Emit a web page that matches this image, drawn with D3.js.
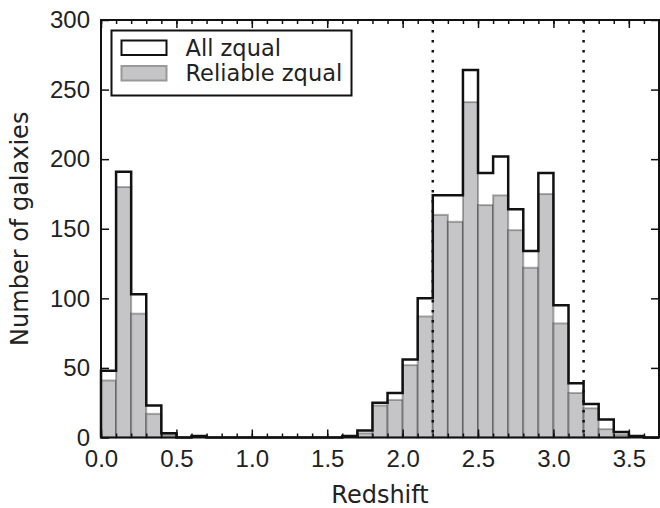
<!DOCTYPE html>
<html>
<head>
<meta charset="utf-8">
<script src="https://cdn.jsdelivr.net/npm/d3@7"></script>
<style>
  html, body { margin: 0; padding: 0; background: #fff; }
  svg { display: block; font-family: "DejaVu Sans", sans-serif; }
  .tick text { fill: #222; }
</style>
</head>
<body>
<div id="chart"></div>
<script>
// ヒストグラムのデータ（ビン幅 0.1、0.0〜3.7）
const binStart = 0.0;
const binWidth = 0.1;
const allCounts = [48, 191, 103, 23, 3, 0, 1, 0, 0, 0, 0, 0, 0, 0, 0, 0, 1, 5, 25, 32,
                   56, 100, 174, 174, 264, 190, 202, 164, 134, 190, 95, 39, 24, 13, 4, 1, 0];
const reliableCounts = [41, 180, 89, 17, 2, 0, 0, 0, 0, 0, 0, 0, 0, 0, 0, 0, 0, 3, 23, 27,
                        52, 87, 160, 155, 241, 167, 174, 149, 122, 175, 82, 32, 21, 6, 2, 0, 0];
const seriesNames = ['All zqual', 'Reliable zqual'];
const cutLines = [2.2, 3.2];
const xTicks = [0.0, 0.5, 1.0, 1.5, 2.0, 2.5, 3.0, 3.5];
const yTicks = [0, 50, 100, 150, 200, 250, 300];
const xLabel = 'Redshift';
const yLabel = 'Number of galaxies';

const width = 660, height = 508;
const margin = { top: 20, right: 1, bottom: 70.5, left: 101 };
const innerW = width - margin.left - margin.right;
const innerH = height - margin.top - margin.bottom;

const svg = d3.select('#chart').append('svg')
    .attr('width', width)
    .attr('height', height);

const g = svg.append('g')
    .attr('transform', `translate(${margin.left},${margin.top})`);

const x = d3.scaleLinear().domain([0, 3.7]).range([0, innerW]);
const y = d3.scaleLinear().domain([0, 300]).range([innerH, 0]);

const bins = allCounts.map((c, i) => ({
    x0: binStart + i * binWidth,
    x1: binStart + (i + 1) * binWidth,
    all: c,
    rel: reliableCounts[i]
}));

// 信頼できる zqual（グレーの棒）
g.selectAll('.rel-bar')
    .data(bins.filter(d => d.rel > 0))
    .enter()
    .append('rect')
    .attr('class', 'rel-bar')
    .attr('x', d => x(d.x0))
    .attr('y', d => y(d.rel))
    .attr('width', d => x(d.x1) - x(d.x0))
    .attr('height', d => y(0) - y(d.rel))
    .attr('fill', '#c5c5c7')
    .attr('stroke', '#000')
    .attr('stroke-opacity', 0.3)
    .attr('stroke-width', 2);

// 全 zqual（ステップの輪郭）
const stepPts = [[x(bins[0].x0), y(0)]];
bins.forEach(d => {
    stepPts.push([x(d.x0), y(d.all)]);
    stepPts.push([x(d.x1), y(d.all)]);
});
stepPts.push([x(bins[bins.length - 1].x1), y(0)]);

g.append('path')
    .attr('d', d3.line()(stepPts))
    .attr('fill', 'none')
    .attr('stroke', '#111')
    .attr('stroke-width', 2.5)
    .attr('stroke-linejoin', 'miter');

// 点線
g.selectAll('.cut-line')
    .data(cutLines)
    .enter()
    .append('line')
    .attr('class', 'cut-line')
    .attr('x1', d => x(d))
    .attr('x2', d => x(d))
    .attr('y1', 0)
    .attr('y2', innerH)
    .attr('stroke', '#111')
    .attr('stroke-width', 2.5)
    .attr('stroke-dasharray', '2.5,7.5');

// 軸（内向きの目盛り）
const minorTicks = d3.range(0, 38).map(i => i / 10);

function styleAxis(sel) {
    sel.select('.domain').remove();
    sel.selectAll('.tick line').attr('stroke', '#111').attr('stroke-width', 1.5);
    sel.selectAll('.tick text').style('font-size', '24px');
}

g.append('g')
    .attr('transform', `translate(0,${innerH})`)
    .call(d3.axisBottom(x).tickValues(minorTicks).tickSize(-4).tickFormat(''))
    .call(styleAxis);
g.append('g')
    .attr('transform', `translate(0,${innerH})`)
    .call(d3.axisBottom(x).tickValues(xTicks).tickSize(-8).tickPadding(12).tickFormat(d3.format('.1f')))
    .call(styleAxis);
g.append('g')
    .call(d3.axisTop(x).tickValues(minorTicks).tickSize(-4).tickFormat(''))
    .call(styleAxis);
g.append('g')
    .call(d3.axisTop(x).tickValues(xTicks).tickSize(-8).tickFormat(''))
    .call(styleAxis);
g.append('g')
    .call(d3.axisLeft(y).tickValues(yTicks).tickSize(-8).tickPadding(11))
    .call(styleAxis);
g.append('g')
    .attr('transform', `translate(${innerW},0)`)
    .call(d3.axisRight(y).tickValues(yTicks).tickSize(-8).tickFormat(''))
    .call(styleAxis);

// 枠
g.append('rect')
    .attr('x', 0)
    .attr('y', 0)
    .attr('width', innerW)
    .attr('height', innerH)
    .attr('fill', 'none')
    .attr('stroke', '#111')
    .attr('stroke-width', 2);

// 軸ラベル
svg.append('text')
    .attr('x', margin.left + innerW / 2)
    .attr('y', 503)
    .attr('text-anchor', 'middle')
    .style('font-size', '24px')
    .attr('fill', '#222')
    .text(xLabel);

svg.append('text')
    .attr('transform', `translate(28,${margin.top + innerH / 2}) rotate(-90)`)
    .attr('text-anchor', 'middle')
    .style('font-size', '24px')
    .attr('fill', '#222')
    .text(yLabel);

// 凡例
const legend = g.append('g').attr('transform', 'translate(10.5,10.5)');
legend.append('rect')
    .attr('width', 240)
    .attr('height', 65)
    .attr('fill', '#fff')
    .attr('stroke', '#111')
    .attr('stroke-width', 2);

const legendStyles = [
    { fill: '#fff', stroke: '#111' },
    { fill: '#c5c5c7', stroke: '#999' }
];
seriesNames.forEach((name, i) => {
    const row = legend.append('g').attr('transform', `translate(0,${10 + i * 25.5})`);
    row.append('rect')
        .attr('x', 10)
        .attr('y', 0)
        .attr('width', 45)
        .attr('height', 14.5)
        .attr('fill', legendStyles[i].fill)
        .attr('stroke', legendStyles[i].stroke)
        .attr('stroke-width', 2);
    row.append('text')
        .attr('x', 74)
        .attr('y', 15)
        .style('font-size', '22.5px')
        .attr('fill', '#222')
        .text(name);
});
</script>
</body>
</html>
